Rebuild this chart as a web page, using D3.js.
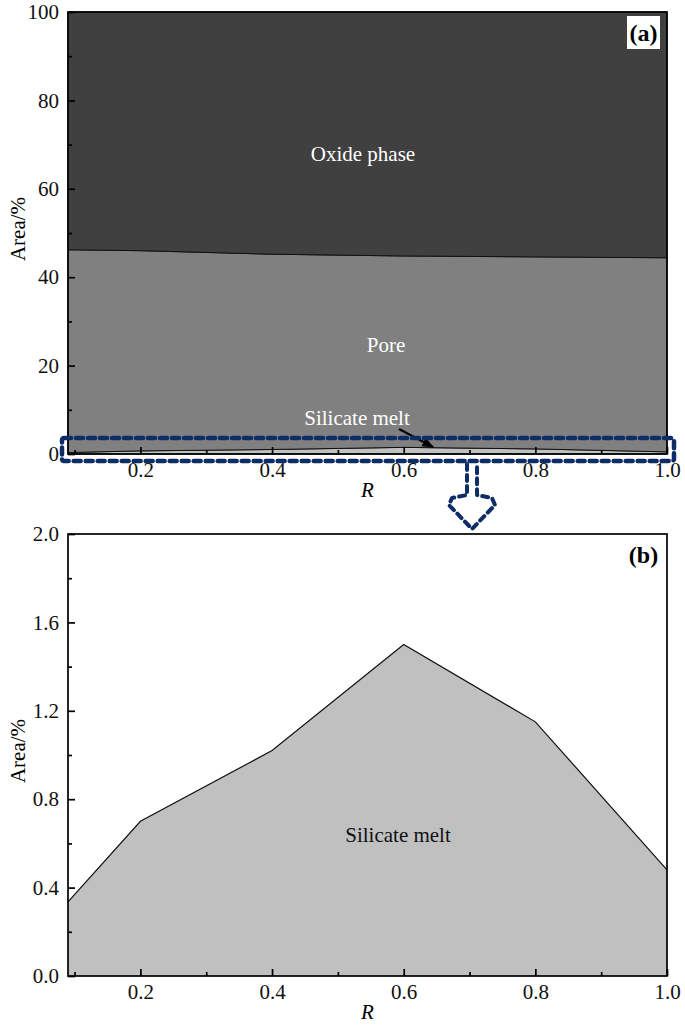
<!DOCTYPE html>
<html>
<head>
<meta charset="utf-8">
<script src="https://cdn.jsdelivr.net/npm/d3@7"></script>
<style>
  html, body { margin: 0; padding: 0; background: #fff; }
  svg { display: block; }
  text { font-family: "Liberation Serif", "DejaVu Serif", serif; }
</style>
</head>
<body>
<svg id="chart" width="685" height="1028"></svg>
<script>
// ---- data ----
const R = [0.09, 0.2, 0.4, 0.6, 0.8, 1.0];
const silicateMelt = [0.335, 0.70, 1.02, 1.50, 1.15, 0.48];
const pore = [45.87, 45.30, 44.18, 43.30, 43.45, 43.92];
const oxidePhase = [53.80, 54.00, 54.80, 55.20, 55.40, 55.60];
const seriesKeys = ["Silicate melt", "Pore", "Oxide phase"];
const xTicksMajor = [0.2, 0.4, 0.6, 0.8, 1.0];
const xTicksMinor = [0.1, 0.3, 0.5, 0.7, 0.9];
const yTicksA = [0, 20, 40, 60, 80, 100];
const yTicksAMinor = [10, 30, 50, 70, 90];
const yTicksB = [0.0, 0.4, 0.8, 1.2, 1.6, 2.0];
const yTicksBMinor = [0.2, 0.6, 1.0, 1.4, 1.8];

const rows = R.map((r, i) => ({
  R: r,
  "Silicate melt": silicateMelt[i],
  "Pore": pore[i],
  "Oxide phase": oxidePhase[i]
}));

const svg = d3.select("#chart");
const colors = { "Silicate melt": "#c0c0c0", "Pore": "#808080", "Oxide phase": "#404040" };
const navy = "#0e2d66";
const FS = 21;

const left = 68, right = 667;
const x = d3.scaleLinear().domain([0.09, 1.0]).range([left, right]);

function drawAxes(g, y, top, bottom, yMajor, yMinor, yFmt) {
  const ax = d3.axisBottom(x).tickValues(xTicksMajor).tickFormat(d3.format(".1f")).tickSize(-7).tickPadding(8);
  g.append("g").attr("transform", `translate(0,${bottom})`).call(ax);
  const axm = d3.axisBottom(x).tickValues(xTicksMinor).tickFormat("").tickSize(-4);
  g.append("g").attr("transform", `translate(0,${bottom})`).call(axm);
  const ay = d3.axisLeft(y).tickValues(yMajor).tickFormat(yFmt).tickSize(-7).tickPadding(9);
  g.append("g").attr("transform", `translate(${left},0)`).call(ay);
  const aym = d3.axisLeft(y).tickValues(yMinor).tickFormat("").tickSize(-4);
  g.append("g").attr("transform", `translate(${left},0)`).call(aym);
  g.selectAll(".domain").remove();
  g.selectAll(".tick line").attr("stroke", "#000").attr("stroke-width", 1.7);
  g.selectAll(".tick text").attr("font-size", FS).attr("fill", "#111");
  g.append("rect").attr("x", left).attr("y", top).attr("width", right - left).attr("height", bottom - top)
    .attr("fill", "none").attr("stroke", "#000").attr("stroke-width", 1.7);
  g.append("text").attr("x", (left + right) / 2).attr("y", bottom + 43)
    .attr("text-anchor", "middle").attr("font-size", FS).attr("font-style", "italic").text("R");
  g.append("text").attr("transform", `translate(25,${(top + bottom) / 2 - 4}) rotate(-90)`)
    .attr("text-anchor", "middle").attr("font-size", FS).text("Area/%");
}

function panelLabel(g, label, top) {
  g.append("rect").attr("x", 627).attr("y", top + 4).attr("width", 33).attr("height", 33).attr("fill", "#fff");
  g.append("text").attr("x", 643.5).attr("y", top + 29).attr("text-anchor", "middle")
    .attr("font-size", 24).attr("font-weight", "bold").text(label);
}

// ---------- Panel (a) ----------
{
  const top = 12, bottom = 454;
  const y = d3.scaleLinear().domain([0, 100]).range([bottom, top]);
  const g = svg.append("g");
  const stacked = d3.stack().keys(seriesKeys)(rows);
  const area = d3.area().x(d => x(d.data.R)).y0(d => y(d[0])).y1(d => y(d[1]));
  g.selectAll("path.layer").data(stacked).join("path")
    .attr("class", "layer")
    .attr("d", area)
    .attr("fill", d => colors[d.key])
    .attr("stroke", "#111").attr("stroke-width", 1);

  g.append("text").attr("x", 363).attr("y", 161).attr("text-anchor", "middle")
    .attr("font-size", FS).attr("fill", "#fff").text("Oxide phase");
  g.append("text").attr("x", 386).attr("y", 352).attr("text-anchor", "middle")
    .attr("font-size", FS).attr("fill", "#fff").text("Pore");
  g.append("text").attr("x", 357).attr("y", 425).attr("text-anchor", "middle")
    .attr("font-size", FS).attr("fill", "#fff").text("Silicate melt");

  const defs = svg.append("defs");
  defs.append("marker").attr("id", "ah").attr("viewBox", "0 0 10 10").attr("refX", 9).attr("refY", 5)
    .attr("markerWidth", 6).attr("markerHeight", 6).attr("orient", "auto")
    .append("path").attr("d", "M0,1 L10,5 L0,9 Z").attr("fill", "#000");
  g.append("line").attr("x1", 399).attr("y1", 429).attr("x2", 433).attr("y2", 447)
    .attr("stroke", "#000").attr("stroke-width", 2).attr("marker-end", "url(#ah)");

  drawAxes(g, y, top, bottom, yTicksA, yTicksAMinor, d3.format("d"));
  panelLabel(g, "(a)", top);

  g.append("rect").attr("x", 62).attr("y", 438).attr("width", 612).attr("height", 23)
    .attr("fill", "none").attr("stroke", navy).attr("stroke-width", 4.5)
    .attr("stroke-dasharray", "7,5").attr("stroke-linecap", "round").attr("rx", 2);

  g.append("path")
    .attr("d", "M467,464 V495 L452,498 L449,505 L472,529 L495,505 L492,498 L477,495 V464")
    .attr("fill", "none").attr("stroke", navy).attr("stroke-width", 4)
    .attr("stroke-dasharray", "6,5").attr("stroke-linecap", "round").attr("stroke-linejoin", "round");
}

// ---------- Panel (b) ----------
{
  const top = 534, bottom = 976;
  const y = d3.scaleLinear().domain([0, 2.0]).range([bottom, top]);
  const g = svg.append("g");
  const area = d3.area().x(d => x(d.R)).y0(y(0)).y1(d => y(d["Silicate melt"]));
  const line = d3.line().x(d => x(d.R)).y(d => y(d["Silicate melt"]));
  g.append("path").datum(rows).attr("d", area).attr("fill", colors["Silicate melt"]);
  g.append("path").datum(rows).attr("d", line).attr("fill", "none").attr("stroke", "#111").attr("stroke-width", 1.2);
  g.append("text").attr("x", 398).attr("y", 842).attr("text-anchor", "middle")
    .attr("font-size", FS).attr("fill", "#111").text("Silicate melt");
  drawAxes(g, y, top, bottom, yTicksB, yTicksBMinor, d3.format(".1f"));
  panelLabel(g, "(b)", top);
}
</script>
</body>
</html>
